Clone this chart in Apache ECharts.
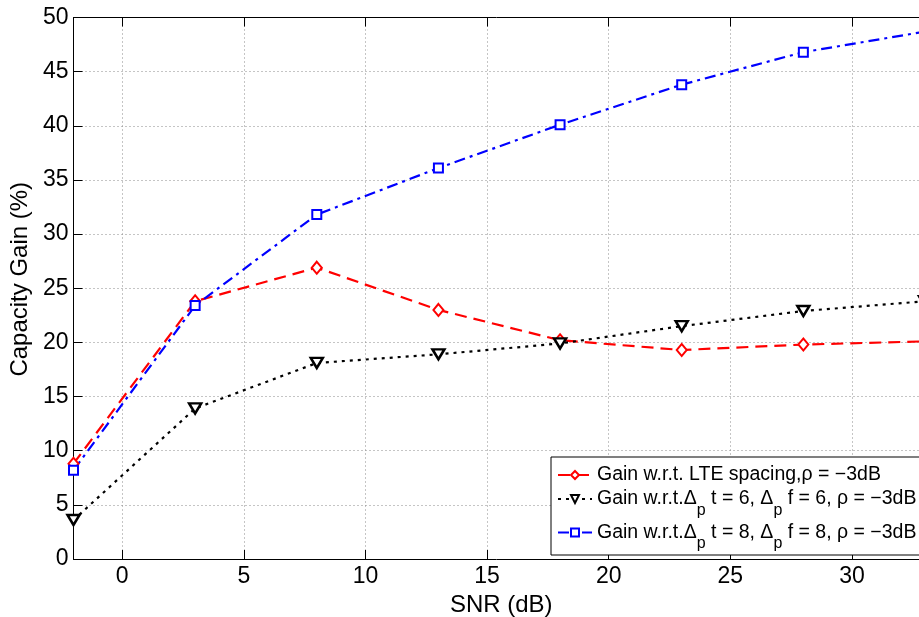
<!DOCTYPE html>
<html>
<head>
<meta charset="utf-8">
<script src="https://cdn.jsdelivr.net/npm/echarts@6/dist/echarts.min.js"></script>
<style>
  html, body { margin: 0; padding: 0; background: #fff; }
  #chart { width: 919px; height: 617px; }
</style>
</head>
<body>
<div id="chart"></div>
<script>
// SNR sample points (dB)
const snr = [-2, 3, 8, 13, 18, 23, 28, 33];
// Capacity gain (%) for each pilot configuration
const gainLte = [8.8, 23.8, 26.9, 23.0, 20.2, 19.3, 19.8, 20.1];
const gainD6 = [3.6, 13.9, 18.1, 18.9, 19.9, 21.5, 22.9, 23.8];
const gainD8 = [8.2, 23.4, 31.8, 36.1, 40.1, 43.8, 46.8, 48.7];
// Axis ticks
const xTicks = [0, 5, 10, 15, 20, 25, 30];
const yTicks = [0, 5, 10, 15, 20, 25, 30, 35, 40, 45, 50];

const seriesNames = [
  'Gain w.r.t. LTE spacing,ρ = −3dB',
  'Gain w.r.t.Δ{p|p} t = 6, Δ{p|p} f = 6, ρ = −3dB',
  'Gain w.r.t.Δ{p|p} t = 8, Δ{p|p} f = 8, ρ = −3dB'
];

const FONT = 'Liberation Sans, Arial, Helvetica, sans-serif';

const pairs = ys => snr.map((x, i) => [x, ys[i]]);

const chart = echarts.init(document.getElementById('chart'), null, { renderer: 'canvas' });

const gridLine = { show: true, lineStyle: { color: '#8a8a8a', width: 1, type: [1, 3] } };

chart.setOption({
  animation: false,
  backgroundColor: '#fff',
  grid: {
    left: 73.5, top: 17.5, width: 851.5, height: 541.5,
    containLabel: false, outerBoundsMode: 'none'
  },
  xAxis: [{
    type: 'value', min: -2, max: 33,
    name: 'SNR (dB)', nameLocation: 'middle', nameGap: 20,
    nameTextStyle: { fontFamily: FONT, fontSize: 24, color: '#000', padding: [0, 0, 0, 4] },
    axisLine: { show: true, onZero: false, lineStyle: { color: '#000', width: 1 } },
    axisTick: { show: true, inside: true, length: 9, customValues: xTicks, lineStyle: { color: '#000' } },
    axisLabel: { customValues: xTicks, fontFamily: FONT, fontSize: 23, color: '#000', margin: 6 },
    splitLine: gridLine
  }, {
    type: 'value', min: -2, max: 33, position: 'top',
    axisLine: { show: true, onZero: false, lineStyle: { color: '#000', width: 1 } },
    axisTick: { show: true, inside: true, length: 9, customValues: xTicks, lineStyle: { color: '#000' } },
    axisLabel: { show: false },
    splitLine: { show: false }
  }],
  yAxis: [{
    type: 'value', min: 0, max: 50, interval: 5,
    name: 'Capacity Gain (%)', nameLocation: 'middle', nameGap: 36,
    nameTextStyle: { fontFamily: FONT, fontSize: 24, color: '#000', padding: [0, 0, 0, 18] },
    axisLine: { show: true, onZero: false, lineStyle: { color: '#000', width: 1 } },
    axisTick: { show: true, inside: true, length: 9, customValues: yTicks, lineStyle: { color: '#000' } },
    axisLabel: { customValues: yTicks, fontFamily: FONT, fontSize: 23, color: '#000', margin: 5 },
    splitLine: gridLine
  }],
  legend: {
    orient: 'vertical',
    left: 551, top: 457,
    backgroundColor: '#fff',
    borderColor: '#000', borderWidth: 1, borderRadius: 0,
    padding: [8, 14, 3, 6],
    itemGap: 4,
    itemWidth: 34, itemHeight: 10,
    textStyle: {
      fontFamily: FONT, fontSize: 19.5, color: '#000',
      rich: { p: { fontFamily: FONT, fontSize: 16, color: '#000', padding: [23, 0, 0, 0] } }
    },
    data: seriesNames
  },
  series: [{
    name: seriesNames[0], type: 'line', data: pairs(gainLte),
    symbol: 'diamond', symbolSize: [10, 12],
    lineStyle: { color: '#ff0000', width: 2.2, type: [12, 7] },
    itemStyle: { color: '#fff', borderColor: '#ff0000', borderWidth: 2 },
    color: '#ff0000'
  }, {
    name: seriesNames[1], type: 'line', data: pairs(gainD6),
    symbol: 'triangle', symbolRotate: 180, symbolSize: [12, 10],
    lineStyle: { color: '#000', width: 2.2, type: [3, 5] },
    itemStyle: { color: '#fff', borderColor: '#000', borderWidth: 2.5 },
    color: '#000'
  }, {
    name: seriesNames[2], type: 'line', data: pairs(gainD8),
    symbol: 'rect', symbolSize: 9,
    lineStyle: { color: '#0000ff', width: 2.2, type: [11, 5, 3, 5] },
    itemStyle: { color: '#fff', borderColor: '#0000ff', borderWidth: 2 },
    color: '#0000ff'
  }]
});
</script>
</body>
</html>
